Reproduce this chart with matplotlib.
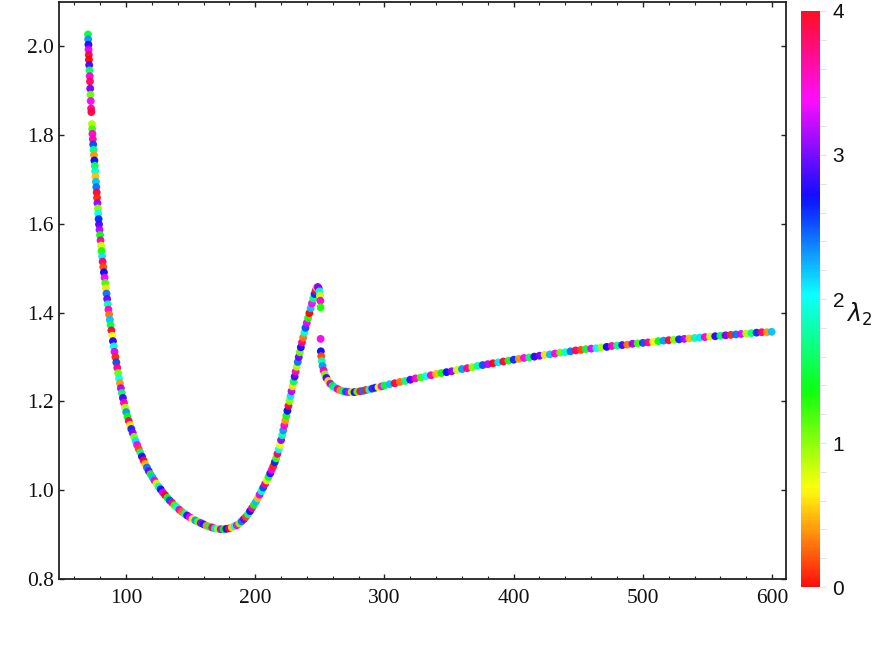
import matplotlib
matplotlib.use("Agg")
import matplotlib.pyplot as plt
from matplotlib.ticker import MultipleLocator, FixedLocator

# ---------------- data ----------------
x_curve = [
    70.6, 70.7, 70.9, 71.0, 71.2, 71.3, 71.5, 71.7, 71.9, 72.1,
    72.3, 72.5, 72.7, 73.0, 73.2, 73.6, 73.8, 74.0, 74.3, 74.6,
    74.9, 75.2, 75.5, 75.8, 76.1, 76.4, 76.7, 77.0, 77.3, 77.6,
    77.9, 78.2, 78.5, 78.8, 79.1, 79.5, 79.9, 80.3, 80.7, 81.1,
    81.5, 81.9, 82.4, 82.9, 83.4, 83.9, 84.4, 84.9, 85.4, 85.9,
    86.4, 86.9, 87.5, 88.1, 88.7, 89.3, 89.9, 90.5, 91.1, 91.8,
    92.5, 93.2, 93.9, 94.6, 95.3, 96.0, 96.8, 97.6, 98.4, 99.3,
    100.2, 101.1, 102.1, 103.1, 104.1, 105.2, 106.3, 107.4, 108.6, 109.8,
    111.0, 112.3, 113.6, 114.9, 116.2, 117.6, 119.0, 120.5, 122.0, 123.6,
    125.2, 126.8, 128.5, 130.2, 132.0, 133.8, 135.6, 137.5, 139.4, 141.3,
    143.3, 145.3, 147.3, 149.4, 151.5, 153.6, 155.7, 157.9, 160.1, 162.3,
    164.5, 166.7, 168.9, 171.1, 173.3, 175.5, 177.7, 179.8, 181.9, 183.9,
    185.8, 187.7, 189.5, 191.2, 192.8, 194.4, 196.0, 197.5, 199.0, 200.5,
    202.0, 203.4, 204.8, 206.2, 207.6, 209.0, 210.3, 211.6, 212.8, 214.0,
    215.1, 216.2, 217.2, 218.2, 219.1, 220.0, 220.9, 221.7, 222.5, 223.3,
    224.1, 224.9, 225.7, 226.5, 227.3, 228.1, 228.9, 229.7, 230.5, 231.3,
    232.1, 232.9, 233.7, 234.5, 235.3, 236.2, 237.1, 238.0, 238.9, 239.9,
    240.9, 241.9, 242.9, 243.9, 244.9, 245.9, 246.8, 247.6, 248.4, 249.1,
    249.7, 250.1, 250.4, 250.6, 250.6, 250.8, 251.1, 251.5, 252.1, 252.9,
    253.9, 255.1, 256.5, 258.1, 259.9, 261.8, 263.8, 265.9, 268.0, 270.2,
    272.4, 274.6, 276.8, 279.0, 281.3, 283.6, 285.9, 288.2, 290.6, 293.0,
    295.4, 297.8,
]
y_curve = [
    2.027, 2.016, 2.004, 1.993, 1.981, 1.970, 1.958, 1.946, 1.933, 1.921,
    1.905, 1.891, 1.877, 1.860, 1.852, 1.825, 1.814, 1.803, 1.791, 1.779,
    1.767, 1.755, 1.743, 1.731, 1.719, 1.707, 1.695, 1.683, 1.671, 1.659,
    1.647, 1.635, 1.623, 1.611, 1.599, 1.587, 1.575, 1.563, 1.551, 1.539,
    1.527, 1.515, 1.503, 1.491, 1.479, 1.467, 1.455, 1.443, 1.431, 1.419,
    1.407, 1.396, 1.384, 1.372, 1.360, 1.348, 1.336, 1.324, 1.312, 1.300,
    1.288, 1.276, 1.264, 1.252, 1.241, 1.230, 1.219, 1.208, 1.197, 1.186,
    1.176, 1.166, 1.156, 1.147, 1.138, 1.129, 1.120, 1.111, 1.102, 1.093,
    1.085, 1.076, 1.067, 1.059, 1.051, 1.043, 1.036, 1.029, 1.022, 1.015,
    1.008, 1.002, 0.995, 0.989, 0.983, 0.977, 0.972, 0.966, 0.961, 0.956,
    0.951, 0.947, 0.943, 0.939, 0.935, 0.932, 0.929, 0.926, 0.923, 0.920,
    0.918, 0.916, 0.914, 0.913, 0.912, 0.912, 0.913, 0.914, 0.916, 0.919,
    0.921, 0.925, 0.930, 0.935, 0.940, 0.946, 0.953, 0.960, 0.967, 0.974,
    0.982, 0.990, 0.998, 1.006, 1.014, 1.022, 1.030, 1.038, 1.046, 1.054,
    1.063, 1.072, 1.082, 1.092, 1.102, 1.113, 1.124, 1.135, 1.146, 1.157,
    1.168, 1.179, 1.190, 1.201, 1.212, 1.223, 1.234, 1.245, 1.256, 1.267,
    1.278, 1.289, 1.300, 1.311, 1.322, 1.333, 1.344, 1.355, 1.366, 1.377,
    1.388, 1.399, 1.410, 1.421, 1.432, 1.442, 1.450, 1.456, 1.458, 1.455,
    1.448, 1.438, 1.427, 1.412, 1.341, 1.313, 1.302, 1.291, 1.280, 1.270,
    1.261, 1.253, 1.246, 1.240, 1.235, 1.231, 1.228, 1.225, 1.223, 1.222,
    1.221, 1.221, 1.221, 1.222, 1.223, 1.224, 1.226, 1.227, 1.229, 1.231,
    1.232, 1.234,
]
x_tail = [
    300, 304, 308, 312, 316, 320, 324, 328, 332, 336,
    340, 344, 348, 352, 356, 360, 364, 368, 372, 376,
    380, 384, 388, 392, 396, 400, 404, 408, 412, 416,
    420, 424, 428, 432, 436, 440, 444, 448, 452, 456,
    460, 464, 468, 472, 476, 480, 484, 488, 492, 496,
    500, 504, 508, 512, 516, 520, 524, 528, 532, 536,
    540, 544, 548, 552, 556, 560, 564, 568, 572, 576,
    580, 584, 588, 592, 596, 599.7,
]
y_tail = [
    1.236, 1.239, 1.241, 1.244, 1.246, 1.249, 1.252, 1.254, 1.257, 1.259,
    1.262, 1.264, 1.266, 1.268, 1.271, 1.273, 1.275, 1.277, 1.280, 1.282,
    1.284, 1.286, 1.288, 1.290, 1.292, 1.294, 1.296, 1.298, 1.299, 1.301,
    1.303, 1.305, 1.306, 1.308, 1.310, 1.311, 1.313, 1.315, 1.316, 1.318,
    1.319, 1.320, 1.322, 1.323, 1.325, 1.326, 1.327, 1.328, 1.330, 1.331,
    1.332, 1.333, 1.334, 1.336, 1.337, 1.338, 1.339, 1.340, 1.341, 1.342,
    1.343, 1.344, 1.345, 1.346, 1.347, 1.348, 1.349, 1.350, 1.351, 1.352,
    1.353, 1.354, 1.355, 1.356, 1.356, 1.357,
]
lam_curve = [
    1.5, 2.3, 2.8, 3.3, 3.9, 0.0, 2.9, 1.6, 3.5, 3.8, 3.0, 1.1, 3.4, 3.7, 3.9, 0.9, 1.2, 3.5, 3.6, 2.5,
    1.7, 0.4, 2.7, 1.6, 1.9, 0.5, 2.2, 2.4, 3.9, 0.1, 3.1, 1.0, 2.0, 2.6, 2.9, 3.2, 1.4, 3.6, 0.8, 1.3,
    2.1, 3.8, 0.2, 2.7, 3.4, 1.2, 0.6, 2.4, 3.0, 1.8, 3.5, 0.3, 2.2, 1.5, 3.9, 0.7, 2.8, 1.9, 3.3, 0.1,
    2.5, 3.7, 1.1, 2.0, 0.4, 3.2, 1.6, 2.9, 3.6, 0.9, 2.3, 1.4, 3.8, 0.6, 2.6, 3.1, 1.0, 2.1, 3.4, 0.2,
    1.7, 2.8, 3.9, 0.5, 2.4, 3.0, 1.3, 2.2, 3.5, 0.8, 1.9, 2.7, 3.3, 0.0, 1.5, 2.5, 3.7, 1.2, 2.0, 3.6,
    0.3, 1.8, 2.9, 3.4, 0.7, 2.3, 1.1, 3.1, 2.6, 0.4, 1.6, 3.8, 2.1, 0.9, 3.2, 1.4, 2.7, 3.9, 0.6, 2.0,
    3.5, 1.0, 2.4, 3.0, 0.2, 1.7, 2.8, 3.6, 1.3, 2.2, 0.5, 3.3, 1.9, 2.5, 3.7, 0.8, 1.5, 2.9, 3.4, 0.1,
    2.6, 1.2, 3.8, 2.0, 0.7, 3.1, 1.8, 2.3, 3.5, 0.4, 1.4, 2.7, 3.9, 1.0, 2.1, 3.2, 0.6, 1.6, 2.9, 3.6,
    0.9, 2.4, 3.0, 1.1, 2.8, 3.7, 0.3, 1.9, 2.5, 3.3, 1.3, 0.0, 2.2, 3.4, 1.7, 2.6, 3.8, 0.5, 3.1, 3.1,
    2.0, 0.8, 3.5, 1.3, 3.4, 2.7, 0.2, 1.8, 2.3, 3.6, 1.0, 2.9, 0.6, 3.2, 1.4, 2.1, 3.7, 0.4, 1.6, 2.5,
    3.3, 0.9, 2.8, 1.1, 3.8, 2.4, 0.1, 1.9, 3.0, 2.6, 0.7, 3.4,
]
lam_tail = [
    1.5, 2.2, 3.9, 0.3, 1.7, 2.9, 3.5, 1.2,
    2.0, 3.6, 0.5, 1.4, 2.7, 3.1, 0.8, 2.3, 3.7, 1.0, 1.8, 2.5, 3.2, 0.0, 2.1, 3.9, 1.3, 2.6, 0.4, 3.4,
    1.6, 2.8, 3.0, 0.6, 2.2, 3.5, 1.1, 1.9, 2.4, 3.8, 0.2, 1.5, 3.3, 2.0, 0.9, 2.7, 3.6, 1.7, 2.9, 0.3,
    3.1, 1.2, 2.5, 3.7, 0.7, 1.4, 2.3, 3.9, 1.0, 2.6, 3.2, 0.5, 1.8, 2.1, 3.5, 0.8, 2.8, 1.6, 3.0, 0.1,
    2.4, 3.3, 0.9, 1.7, 2.6, 3.8, 0.4, 2.2,
]
x_ticks = [100, 200, 300, 400, 500, 600]
y_ticks = [0.8, 1.0, 1.2, 1.4, 1.6, 1.8, 2.0]
cbar_ticks = [0, 1, 2, 3, 4]

# ---------------- figure ----------------
fig = plt.figure(figsize=(8.72, 6.54), dpi=100)
ax = fig.add_axes([0.0682, 0.1147, 0.8332, 0.8822])
cax = fig.add_axes([0.9186, 0.1024, 0.0218, 0.8808])

xs = x_curve + x_tail
ys = y_curve + y_tail
ls = lam_curve + lam_tail
sc = ax.scatter(xs, ys, c=ls, cmap="hsv", vmin=0, vmax=4,
                s=32, linewidths=0, alpha=0.95, zorder=3)

ax.set_xlim(48.5, 610.8)
ax.set_ylim(0.8, 2.1)
ax.xaxis.set_major_locator(FixedLocator(x_ticks))
ax.xaxis.set_minor_locator(MultipleLocator(20))
ax.yaxis.set_major_locator(FixedLocator(y_ticks))
ax.set_yticklabels([f"{v:.1f}" for v in y_ticks])
ax.set_xticklabels([str(v) for v in x_ticks])

for sp in ax.spines.values():
    sp.set_linewidth(1.3)
    sp.set_color("#222222")

ax.tick_params(which="both", direction="in", top=True, right=True, color="#222222")
ax.tick_params(which="major", length=3.5, width=1.0)
ax.tick_params(which="minor", length=2.2, width=0.8)
ax.tick_params(axis="x", which="major", pad=7)
ax.tick_params(axis="y", which="major", pad=4)
for lab in ax.get_xticklabels() + ax.get_yticklabels():
    lab.set_fontfamily("Liberation Serif")
    lab.set_fontsize(15.5)
    lab.set_color("#111111")

cb = fig.colorbar(sc, cax=cax)
cb.outline.set_visible(False)
cb.set_ticks(cbar_ticks)
cax.yaxis.set_minor_locator(MultipleLocator(0.2))
cax.tick_params(which="both", length=4, width=0.8, color="#e2e2e2", pad=5)
for lab in cax.get_yticklabels():
    lab.set_fontfamily("Liberation Sans")
    lab.set_fontsize(15)
    lab.set_color("#111111")

fig.text(859 / 872, 1 - 314 / 654, r"$\lambda_2$", fontsize=17,
         ha="center", va="center", color="#111111")

fig.savefig("out.png", dpi=100)
